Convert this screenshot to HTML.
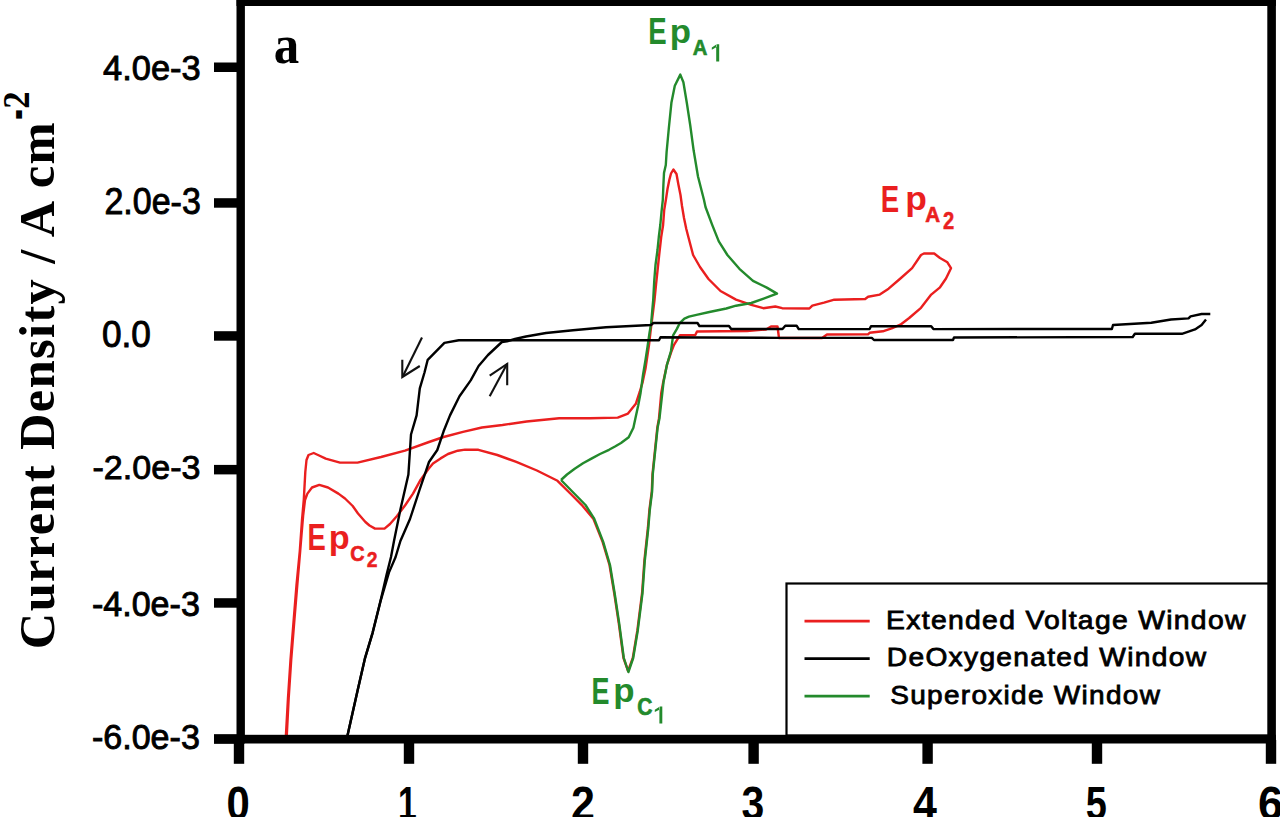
<!DOCTYPE html><html><head><meta charset="utf-8"><title>Cyclic voltammogram</title><style>html,body{margin:0;padding:0;background:#fff;overflow:hidden}svg{display:block;position:absolute;left:0;top:0}</style></head><body><svg width="1280" height="817" viewBox="0 0 1280 817"><polyline points="285.6,741.0 288.0,697.8 290.5,660.0 293.8,618.6 296.5,585.0 299.8,551.0 302.0,520.0 303.8,499.6 305.3,472.0 306.5,460.0 308.5,455.0 313.7,453.0 318.0,455.0 325.7,458.6 340.0,462.6 357.5,462.6 381.0,457.0 405.0,450.7 429.0,442.0 443.6,437.0 463.0,431.8 481.9,427.5 502.5,425.0 526.6,421.5 559.2,418.3 590.0,418.3 617.7,417.6 628.0,413.6 635.8,403.8 639.7,392.0 642.6,382.3 645.5,368.5 647.5,355.0 649.0,345.0 650.7,330.0 652.5,316.0 654.5,300.0 656.0,285.0 657.8,268.0 659.5,252.0 661.2,237.0 663.1,225.0 664.2,210.0 666.0,199.0 667.5,189.0 669.3,180.0 671.0,173.5 673.4,169.5 676.5,174.0 678.3,184.0 680.5,195.0 682.0,206.0 684.0,218.0 686.3,229.0 688.5,237.5 693.1,255.0 700.0,267.0 708.5,279.0 720.5,291.0 736.0,299.6 751.3,304.8 763.3,308.2 775.3,306.5 782.2,308.2 809.4,308.5 812.3,305.6 824.0,302.7 834.3,299.7 865.2,299.0 868.1,296.8 879.8,294.6 888.6,288.7 900.4,278.5 912.1,268.2 921.0,255.0 923.9,253.5 934.2,253.5 940.0,258.0 947.4,262.3 951.0,268.2 946.0,278.5 940.0,287.3 931.2,294.6 921.0,307.8 909.2,318.0 900.4,324.7 891.6,328.4 882.8,331.3 869.6,332.8 868.0,334.3 827.0,334.5 822.0,338.0 779.0,338.0 777.5,326.5 771.0,326.5 766.0,329.5 747.0,331.0 697.0,331.5 695.3,335.0 680.0,335.2 674.0,344.8 671.2,352.0 667.0,364.6 663.2,382.3 661.3,392.7 659.0,418.2 657.3,427.8 655.0,450.0 652.5,474.0 651.8,491.5 649.4,510.0 647.9,528.0 644.4,560.5 642.1,593.0 637.4,630.2 632.8,658.0 628.1,671.0 623.5,658.0 618.8,623.3 614.2,593.0 609.5,565.0 602.6,541.9 593.3,518.6 581.6,504.8 571.3,494.5 557.5,480.8 536.9,470.5 516.3,461.9 497.3,455.0 478.4,449.8 465.0,449.6 457.8,450.7 448.0,454.0 440.6,458.4 433.0,463.5 428.6,468.8 420.0,480.8 413.0,493.6 405.0,505.5 397.0,516.0 390.0,524.0 384.5,528.6 375.0,528.6 369.5,525.5 365.4,522.0 358.0,513.5 352.7,506.0 345.0,498.5 338.4,493.6 328.0,487.5 319.3,484.9 312.0,487.5 307.4,493.6 305.0,500.0 303.2,515.0 301.5,535.0 300.2,551.0 297.3,585.0 294.5,618.6 291.2,660.0 288.7,697.8 286.5,741.0" fill="none" stroke="#ea1f1f" stroke-width="2.4" stroke-linejoin="round"/><polyline points="561.0,480.0 567.0,474.5 574.7,468.8 583.0,463.3 591.9,458.4 600.0,454.0 609.0,449.8 615.0,446.5 621.0,443.0 628.7,437.3 633.4,427.8 635.8,416.6 638.2,405.5 640.6,392.7 643.0,375.0 645.5,360.0 647.5,347.0 649.5,333.0 651.2,323.0 652.3,310.0 653.2,300.0 654.3,280.0 655.5,265.0 657.5,250.0 658.8,237.0 660.3,225.0 661.5,212.0 662.8,200.0 663.4,185.0 664.0,173.0 665.8,165.0 666.6,152.0 668.8,128.5 671.4,102.8 674.8,85.7 680.3,74.6 683.4,82.3 686.8,102.8 690.2,125.0 693.7,150.8 698.0,176.5 704.0,200.0 705.5,207.0 712.0,224.3 718.8,241.4 727.4,255.0 739.4,268.8 753.0,280.8 766.8,287.6 777.0,293.6 770.2,296.2 751.3,303.0 736.0,305.7 726.3,308.5 709.4,312.0 696.5,314.8 689.0,316.7 684.4,318.6 679.7,323.2 676.9,328.9 673.1,335.4 671.0,351.0 667.0,364.6 663.5,382.3 659.5,418.2 657.6,427.8 655.3,450.0 652.8,474.0 652.1,491.5 649.8,510.0 648.3,528.0 644.8,560.5 642.5,593.0 637.8,630.2 633.2,658.0 628.4,672.0 623.8,658.0 619.2,623.3 614.6,593.0 610.0,565.0 603.2,541.9 594.2,518.6 585.5,505.0 575.2,494.5 561.0,480.0" fill="none" stroke="#238a2c" stroke-width="2.4" stroke-linejoin="round"/><polyline points="347.5,735.5 357.6,690.4 365.1,657.8 372.6,632.8 380.1,602.7 388.9,572.6 395.6,557.0 400.4,541.0 410.0,519.0 419.5,490.0 429.0,462.0 437.3,450.0 443.6,431.3 450.0,415.4 459.5,396.3 470.7,380.4 478.6,366.0 488.0,355.0 501.9,342.0 507.0,341.3 515.0,339.0 526.0,336.5 546.0,333.0 573.0,330.3 606.0,327.3 651.0,325.0 653.4,323.0 697.5,323.0 699.4,326.0 729.0,326.0 731.2,329.0 782.5,329.0 785.3,325.7 796.6,325.7 798.7,329.0 869.6,329.1 871.0,326.2 931.2,326.2 933.4,329.1 1111.9,329.0 1113.0,325.0 1151.3,322.8 1171.0,319.5 1188.5,318.4 1190.6,316.3 1201.6,314.0 1210.3,314.0" fill="none" stroke="#000" stroke-width="2.4" stroke-linejoin="round"/><polyline points="1206.0,319.5 1201.6,325.0 1195.0,329.4 1181.9,333.8 1134.9,333.8 1132.7,337.0 954.0,337.5 953.0,340.0 874.0,340.0 871.8,337.9 780.0,337.9 700.0,337.5 660.5,337.3 659.0,340.2 458.8,340.2 444.4,342.9 427.7,359.8 424.5,372.5 419.8,388.4 416.6,415.4 411.0,434.5 408.4,474.5 400.4,509.5 394.0,541.0 391.0,557.0 386.5,575.0 380.1,602.7 372.6,632.8 365.1,657.8 357.6,690.4 347.5,735.5" fill="none" stroke="#000" stroke-width="2.4" stroke-linejoin="round"/><g stroke="#111" stroke-width="2.1" fill="none" stroke-linecap="butt"><line x1="422" y1="337.5" x2="403" y2="376"/><polyline points="402.3,359.8 402.3,377 419.8,366"/><line x1="489.7" y1="396.3" x2="507.2" y2="363.7"/><polyline points="489.7,375.7 507.2,364 507.2,385.2"/></g><rect x="786.5" y="583.5" width="484" height="152" fill="#fff" stroke="#000" stroke-width="2.2"/><line x1="804.5" y1="621.2" x2="869.7" y2="621.2" stroke="#ea1f1f" stroke-width="2.7"/><line x1="804.5" y1="658.7" x2="869.7" y2="658.7" stroke="#000" stroke-width="2.7"/><line x1="804.5" y1="696.2" x2="869.7" y2="696.2" stroke="#238a2c" stroke-width="2.7"/><rect x="236.5" y="-8" width="8.4" height="751.5" fill="#000"/><rect x="1267.3" y="-8" width="8.6" height="751.5" fill="#000"/><rect x="236.5" y="-8" width="1039.4" height="14" fill="#000"/><rect x="214" y="734.8" width="1061.9" height="8.7" fill="#000"/><rect x="214" y="62.5" width="24" height="9.5" fill="#000"/><rect x="214" y="198.2" width="24" height="9.5" fill="#000"/><rect x="214" y="331.2" width="24" height="9.5" fill="#000"/><rect x="214" y="464.9" width="24" height="9.5" fill="#000"/><rect x="214" y="598.2" width="24" height="9.5" fill="#000"/><rect x="214" y="734.2" width="24" height="9.5" fill="#000"/><rect x="233.8" y="740" width="10.4" height="23.8" fill="#000"/><rect x="403.8" y="740" width="10.4" height="23.8" fill="#000"/><rect x="577.8" y="740" width="10.4" height="23.8" fill="#000"/><rect x="748.4" y="740" width="10.4" height="23.8" fill="#000"/><rect x="922.4" y="740" width="10.4" height="23.8" fill="#000"/><rect x="1091.8" y="740" width="10.4" height="23.8" fill="#000"/><rect x="1265.8" y="740" width="10.4" height="23.8" fill="#000"/><text transform="translate(54.3 649.2) rotate(-90)" x="0" y="0" style="font-family:'Liberation Serif',serif;font-weight:bold;font-size:50.5px;fill:#000" textLength="526.8" lengthAdjust="spacing">Current Density / A cm</text><path d="M716.2 44.3H719.2V61.4H716.2Z M716.7 44.3L711.8 47.5L711.8 49.7L716.7 47.1Z" fill="#238a2c"/><path d="M659.4 706.6H662.3V723.4H659.4Z M659.9 706.6L654.8 709.8L654.8 712.0L659.9 709.4Z" fill="#238a2c"/><text transform="translate(886.12 628.52) scale(1.0896 0.9760)" style="font-family:'Liberation Sans';font-weight:400;font-size:26px;fill:#000;stroke:#000;stroke-width:0.8px;letter-spacing:1.2px">Extended Voltage Window</text><text transform="translate(886.83 666.22) scale(1.0833 0.9760)" style="font-family:'Liberation Sans';font-weight:400;font-size:26px;fill:#000;stroke:#000;stroke-width:0.8px;letter-spacing:1.2px">DeOxygenated Window</text><text transform="translate(890.22 703.68) scale(1.0776 0.9692)" style="font-family:'Liberation Sans';font-weight:400;font-size:26px;fill:#000;stroke:#000;stroke-width:0.8px;letter-spacing:1.2px">Superoxide Window</text><text transform="translate(103.00 79.92) scale(0.9847 0.9808)" style="font-family:'Liberation Sans';font-weight:400;font-size:35px;fill:#000;stroke:#000;stroke-width:0.9px">4.0e-3</text><text transform="translate(104.43 213.57) scale(0.9711 1.0320)" style="font-family:'Liberation Sans';font-weight:400;font-size:35px;fill:#000;stroke:#000;stroke-width:0.9px">2.0e-3</text><text transform="translate(101.89 346.66) scale(1.0064 1.0400)" style="font-family:'Liberation Sans';font-weight:400;font-size:35px;fill:#000;stroke:#000;stroke-width:0.9px">0.0</text><text transform="translate(92.43 479.23) scale(0.9743 0.9680)" style="font-family:'Liberation Sans';font-weight:400;font-size:35px;fill:#000;stroke:#000;stroke-width:0.9px">-2.0e-3</text><text transform="translate(91.93 615.52) scale(0.9734 0.9808)" style="font-family:'Liberation Sans';font-weight:400;font-size:35px;fill:#000;stroke:#000;stroke-width:0.9px">-4.0e-3</text><text transform="translate(91.93 748.58) scale(0.9734 1.0160)" style="font-family:'Liberation Sans';font-weight:400;font-size:35px;fill:#000;stroke:#000;stroke-width:0.9px">-6.0e-3</text><text transform="translate(226.55 820.00) scale(0.9750 1.1276)" style="font-family:'Liberation Sans';font-weight:700;font-size:43px;fill:#000;">0</text><text transform="translate(397.94 820.00) scale(0.7850 1.1276)" style="font-family:'Liberation Sans';font-weight:700;font-size:43px;fill:#000;">1</text><text transform="translate(571.00 820.00) scale(1.0000 1.1276)" style="font-family:'Liberation Sans';font-weight:700;font-size:43px;fill:#000;">2</text><text transform="translate(741.55 820.00) scale(0.9524 1.1276)" style="font-family:'Liberation Sans';font-weight:700;font-size:43px;fill:#000;">3</text><text transform="translate(913.00 820.00) scale(1.0000 1.1276)" style="font-family:'Liberation Sans';font-weight:700;font-size:43px;fill:#000;">4</text><text transform="translate(1085.74 820.00) scale(0.8810 1.1276)" style="font-family:'Liberation Sans';font-weight:700;font-size:43px;fill:#000;">5</text><text transform="translate(1257.90 820.00) scale(1.0500 1.1276)" style="font-family:'Liberation Sans';font-weight:700;font-size:43px;fill:#000;">6</text><text transform="translate(273.80 62.80) scale(1.0000 1.0652)" style="font-family:'Liberation Serif';font-weight:700;font-size:51px;fill:#000;">a</text><text transform="translate(28.90 108.83) rotate(-90) scale(0.9133 1.0200)" style="font-family:'Liberation Serif';font-weight:700;font-size:38px;fill:#000;">2</text><text transform="translate(35.83 119.63) rotate(-90) scale(0.8300 1.8333)" style="font-family:'Liberation Serif';font-weight:700;font-size:38px;fill:#000;">-</text><text transform="translate(648.37 44.10) scale(0.7667 1.0308)" style="font-family:'Liberation Sans';font-weight:700;font-size:36px;fill:#238a2c;">E</text><text transform="translate(669.86 42.51) scale(0.9684 0.9357)" style="font-family:'Liberation Sans';font-weight:700;font-size:36px;fill:#238a2c;">p</text><text transform="translate(692.66 54.70) scale(0.8438 0.9529)" style="font-family:'Liberation Sans';font-weight:700;font-size:24px;fill:#238a2c;stroke:#238a2c;stroke-width:0.7px">A</text><text transform="translate(880.87 212.30) scale(0.7667 1.0192)" style="font-family:'Liberation Sans';font-weight:700;font-size:36px;fill:#ea1f1f;">E</text><text transform="translate(905.23 209.71) scale(0.9842 0.9107)" style="font-family:'Liberation Sans';font-weight:700;font-size:36px;fill:#ea1f1f;">p</text><text transform="translate(925.14 222.40) scale(0.8563 0.9235)" style="font-family:'Liberation Sans';font-weight:700;font-size:24px;fill:#ea1f1f;stroke:#ea1f1f;stroke-width:0.7px">A</text><text transform="translate(943.06 228.70) scale(0.8417 0.9647)" style="font-family:'Liberation Sans';font-weight:700;font-size:24px;fill:#ea1f1f;stroke:#ea1f1f;stroke-width:0.5px">2</text><text transform="translate(307.38 550.20) scale(0.7619 1.0000)" style="font-family:'Liberation Sans';font-weight:700;font-size:36px;fill:#ea1f1f;">E</text><text transform="translate(328.69 548.56) scale(0.9526 0.9179)" style="font-family:'Liberation Sans';font-weight:700;font-size:36px;fill:#ea1f1f;">p</text><text transform="translate(350.17 561.00) scale(0.8313 0.9176)" style="font-family:'Liberation Sans';font-weight:700;font-size:24px;fill:#ea1f1f;stroke:#ea1f1f;stroke-width:0.7px">C</text><text transform="translate(366.69 567.20) scale(0.8083 0.9353)" style="font-family:'Liberation Sans';font-weight:700;font-size:24px;fill:#ea1f1f;stroke:#ea1f1f;stroke-width:0.5px">2</text><text transform="translate(591.60 704.10) scale(0.7476 1.0269)" style="font-family:'Liberation Sans';font-weight:700;font-size:36px;fill:#238a2c;">E</text><text transform="translate(613.36 701.76) scale(0.9684 0.9179)" style="font-family:'Liberation Sans';font-weight:700;font-size:36px;fill:#238a2c;">p</text><text transform="translate(637.32 714.50) scale(0.8750 0.9588)" style="font-family:'Liberation Sans';font-weight:700;font-size:24px;fill:#238a2c;stroke:#238a2c;stroke-width:0.7px">C</text></svg></body></html>
